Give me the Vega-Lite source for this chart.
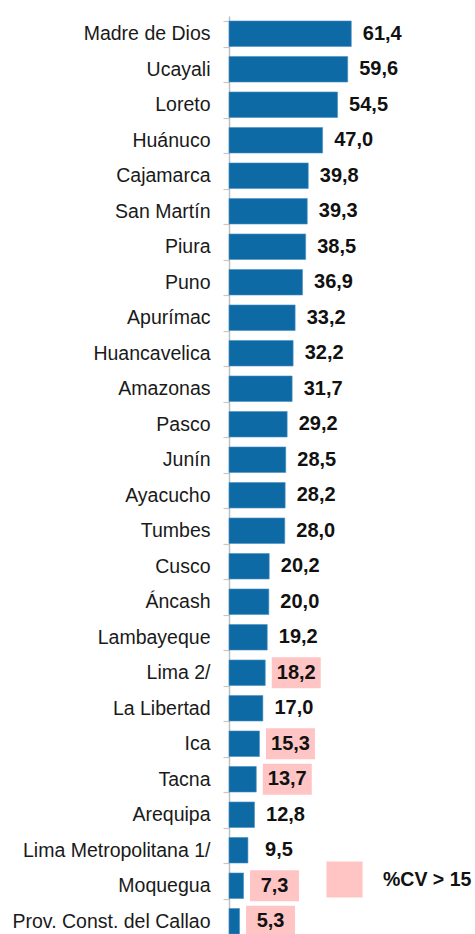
{
  "$schema": "https://vega.github.io/schema/vega-lite/v6.json",
  "autosize": {"type": "none"},
  "padding": {"left": 229, "top": 16, "right": 7, "bottom": 0},
  "width": 239,
  "height": 923,
  "background": "white",
  "config": {
    "view": {"stroke": null},
    "locale": {"number": {"decimal": ",", "thousands": ".", "grouping": [3], "currency": ["", ""]}},
    "font": "Liberation Sans"
  },
  "data": {
    "values": [
      {"region": "Madre de Dios", "value": 61.4, "cv": null},
      {"region": "Ucayali", "value": 59.6, "cv": null},
      {"region": "Loreto", "value": 54.5, "cv": null},
      {"region": "Huánuco", "value": 47.0, "cv": null},
      {"region": "Cajamarca", "value": 39.8, "cv": null},
      {"region": "San Martín", "value": 39.3, "cv": null},
      {"region": "Piura", "value": 38.5, "cv": null},
      {"region": "Puno", "value": 36.9, "cv": null},
      {"region": "Apurímac", "value": 33.2, "cv": null},
      {"region": "Huancavelica", "value": 32.2, "cv": null},
      {"region": "Amazonas", "value": 31.7, "cv": null},
      {"region": "Pasco", "value": 29.2, "cv": null},
      {"region": "Junín", "value": 28.5, "cv": null},
      {"region": "Ayacucho", "value": 28.2, "cv": null},
      {"region": "Tumbes", "value": 28.0, "cv": null},
      {"region": "Cusco", "value": 20.2, "cv": null},
      {"region": "Áncash", "value": 20.0, "cv": null},
      {"region": "Lambayeque", "value": 19.2, "cv": null},
      {"region": "Lima 2/", "value": 18.2, "cv": "%CV > 15"},
      {"region": "La Libertad", "value": 17.0, "cv": null},
      {"region": "Ica", "value": 15.3, "cv": "%CV > 15"},
      {"region": "Tacna", "value": 13.7, "cv": "%CV > 15"},
      {"region": "Arequipa", "value": 12.8, "cv": null},
      {"region": "Lima Metropolitana 1/", "value": 9.5, "cv": null},
      {"region": "Moquegua", "value": 7.3, "cv": "%CV > 15"},
      {"region": "Prov. Const. del Callao", "value": 5.3, "cv": "%CV > 15"}
    ]
  },
  "encoding": {
    "y": {
      "field": "region", "type": "nominal", "sort": null,
      "scale": {"paddingInner": 0.28, "paddingOuter": 0.14},
      "axis": {
        "title": null,
        "domainColor": "#bfbfbf", "domainWidth": 1.5,
        "tickColor": "#c8c8c8", "tickWidth": 1.2, "tickSize": 6, "tickBand": "extent",
        "labelFont": "Liberation Sans", "labelFontSize": 19.5, "labelColor": "#1a1a1a",
        "labelPadding": 13, "labelLimit": 300
      }
    },
    "x": {
      "field": "value", "type": "quantitative",
      "scale": {"domain": [0, 120], "nice": false},
      "axis": null
    }
  },
  "layer": [
    {
      "mark": {"type": "bar", "color": "#0e6aa5", "stroke": "#4a90c4", "strokeWidth": 0.6},
      "encoding": {}
    },
    {
      "transform": [{"filter": "datum.cv != null"}],
      "mark": {
        "type": "point", "filled": true, "opacity": 1,
        "shape": "M-1.58,-1H1.58V1H-1.58Z", "size": 961, "xOffset": 31, "strokeWidth": 0
      },
      "encoding": {
        "color": {
          "field": "cv", "type": "nominal",
          "scale": {"domain": ["%CV > 15"], "range": ["#ffc5c5"]},
          "legend": {
            "orient": "none", "legendX": 97, "legendY": 845, "title": null,
            "padding": 0, "symbolType": "square", "symbolSize": 1300,
            "symbolStrokeWidth": 0, "symbolOpacity": 1,
            "labelFont": "Liberation Sans", "labelFontSize": 19.5, "labelFontWeight": "bold",
            "labelColor": "#111111", "labelOffset": 20
          }
        }
      }
    },
    {
      "mark": {
        "type": "text", "align": "center", "baseline": "middle", "dx": 31,
        "font": "Liberation Sans", "fontSize": 20, "fontWeight": "bold", "color": "#111111"
      },
      "encoding": {"text": {"field": "value", "type": "quantitative", "format": ".1f"}}
    }
  ]
}
